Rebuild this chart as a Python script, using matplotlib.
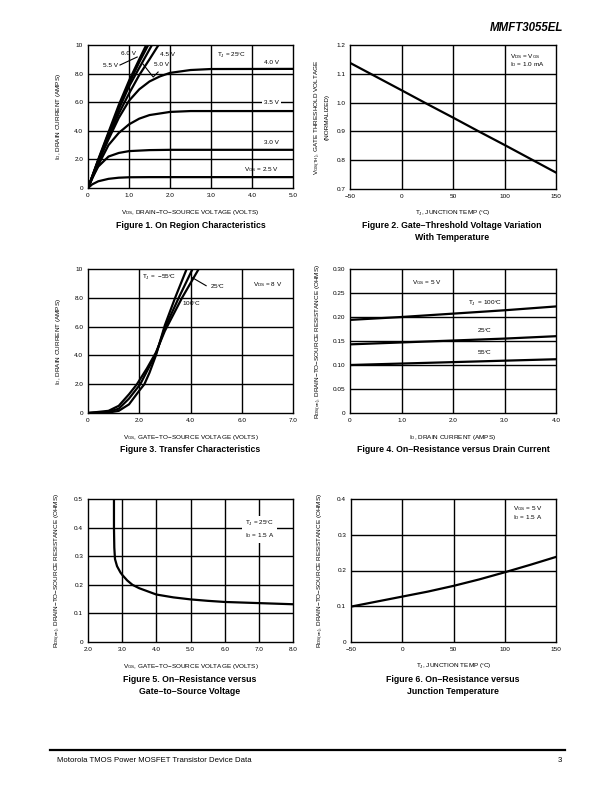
import numpy as np
import matplotlib
matplotlib.use("Agg")
import matplotlib.pyplot as plt
from matplotlib.lines import Line2D

plt.rcParams["font.family"] = ["Liberation Sans", "DejaVu Sans"]
plt.rcParams["mathtext.fontset"] = "custom"
plt.rcParams["mathtext.rm"] = "Liberation Sans"

W, H = 612, 792

# ---- Figure 1: on region characteristics (VDS vs ID per VGS) ----
fig1_labels = ["2.5", "3.0", "3.5", "4.0", "4.5", "5.0", "5.5", "6.0"]
fig1_vds = [
    [0, 0.1, 0.25, 0.5, 0.75, 1.0, 1.5, 5.0],
    [0, 0.1, 0.25, 0.5, 0.75, 1.0, 1.5, 2.0, 5.0],
    [0, 0.25, 0.5, 0.75, 1.0, 1.25, 1.5, 2.0, 2.5, 5.0],
    [0, 0.25, 0.5, 0.75, 1.0, 1.25, 1.5, 1.75, 2.0, 2.5, 3.0, 5.0],
    [0, 0.25, 0.5, 0.75, 1.0, 1.25, 1.5, 1.72],
    [0, 0.25, 0.5, 0.75, 1.0, 1.25, 1.56],
    [0, 0.25, 0.5, 0.75, 1.0, 1.25, 1.47],
    [0, 0.25, 0.5, 0.75, 1.0, 1.25, 1.42],
]
fig1_id = [
    [0, 0.25, 0.47, 0.64, 0.72, 0.75, 0.76, 0.76],
    [0, 0.7, 1.5, 2.2, 2.45, 2.58, 2.65, 2.67, 2.67],
    [0, 1.6, 3.0, 3.85, 4.45, 4.85, 5.1, 5.32, 5.38, 5.38],
    [0, 1.8, 3.4, 4.9, 6.1, 6.9, 7.45, 7.8, 8.05, 8.25, 8.32, 8.33],
    [0, 1.9, 3.6, 5.2, 6.6, 7.9, 9.0, 10],
    [0, 1.9, 3.7, 5.5, 7.1, 8.4, 10],
    [0, 1.95, 3.8, 5.6, 7.3, 8.8, 10],
    [0, 2.0, 3.9, 5.8, 7.5, 9.0, 10],
]

# ---- Figure 2: gate threshold vs temperature ----
fig2_tj = [-50, 0, 25, 50, 75, 100, 125, 150]
fig2_vth = [1.138, 1.043, 0.995, 0.948, 0.900, 0.853, 0.805, 0.757]

# ---- Figure 3: transfer characteristics ----
fig3_vgs_m55 = [0, 0.8, 1.2, 1.6, 2.0, 2.2, 2.4, 2.65, 3.0, 3.4, 3.85]
fig3_id_m55 = [0, 0.03, 0.15, 0.6, 1.55, 2.0, 2.8, 4.0, 6.1, 8.0, 10]
fig3_vgs_25 = [0, 0.8, 1.2, 1.6, 2.04, 2.3, 2.65, 3.0, 3.54, 4.08]
fig3_id_25 = [0, 0.08, 0.3, 1.0, 2.0, 2.9, 4.1, 5.9, 8.0, 10]
fig3_vgs_100 = [0, 0.8, 1.2, 1.6, 1.91, 2.3, 2.65, 3.0, 3.67, 4.32]
fig3_id_100 = [0, 0.15, 0.5, 1.3, 2.0, 3.1, 4.2, 5.7, 8.0, 10]

# ---- Figure 4: on-resistance vs drain current ----
fig4_id = [0, 1, 2, 3, 4]
fig4_r100 = [0.194, 0.200, 0.207, 0.214, 0.222]
fig4_r25 = [0.143, 0.147, 0.151, 0.155, 0.160]
fig4_rm55 = [0.100, 0.103, 0.106, 0.109, 0.112]

# ---- Figure 5: on-resistance vs gate voltage ----
fig5_vgs = [2.76, 2.76, 2.77, 2.79, 2.85, 2.95, 3.0, 3.15, 3.3, 3.5, 4.0, 4.5,
            5.0, 5.5, 6.0, 7.0, 8.0]
fig5_r = [0.5, 0.40, 0.33, 0.29, 0.265, 0.243, 0.235, 0.215, 0.2, 0.188, 0.166,
          0.156, 0.149, 0.144, 0.140, 0.136, 0.132]

# ---- Figure 6: on-resistance vs temperature ----
fig6_tj = [-50, -25, 0, 25, 50, 75, 100, 125, 150]
fig6_r = [0.099, 0.113, 0.127, 0.141, 0.157, 0.175, 0.195, 0.216, 0.238]

TICK_FS = 4.6
LAB_FS = 4.6
ANN_FS = 4.6
CAP_FS = 6.3
LW = 1.6


def make_ax(fig, l, r, t, b):
    return fig.add_axes([l / W, 1 - b / H, (r - l) / W, (b - t) / H])


def style(ax, xlim, ylim, xticks, xlabels, yticks, ylabels, xgrid, ygrid):
    ax.set_xlim(*xlim)
    ax.set_ylim(*ylim)
    ax.set_xticks(xticks)
    ax.set_xticklabels(xlabels)
    ax.set_yticks(yticks)
    ax.set_yticklabels(ylabels)
    ax.tick_params(length=0, labelsize=TICK_FS, pad=3.5)
    for v in xgrid:
        ax.axvline(v, color="black", lw=1.0, zorder=1)
    for v in ygrid:
        ax.axhline(v, color="black", lw=1.0, zorder=1)
    for s in ax.spines.values():
        s.set_linewidth(1.0)


fig = plt.figure(figsize=(W / 100, H / 100), dpi=100)

# Figure 1
ax1 = make_ax(fig, 88, 293, 45, 188)
style(ax1, (0, 5), (0, 10), [0, 1, 2, 3, 4, 5], ["0", "1.0", "2.0", "3.0", "4.0", "5.0"],
      [0, 2, 4, 6, 8, 10], ["0", "2.0", "4.0", "6.0", "8.0", "10"],
      [1, 2, 3, 4], [2, 4, 6, 8])
for x, y in zip(fig1_vds, fig1_id):
    ax1.plot(x, y, color="black", lw=LW, zorder=3, solid_capstyle="butt")
ax1.set_xlabel(r"V$_{\mathregular{DS}}$, DRAIN$-$TO$-$SOURCE VOLTAGE (VOLTS)", fontsize=LAB_FS, labelpad=7)
ax1.set_ylabel(r"I$_{\mathregular{D}}$, DRAIN CURRENT (AMPS)", fontsize=LAB_FS, labelpad=8)
ax1.text(0.98, 9.44, "6.0 V", fontsize=ANN_FS, ha="center", va="center")
ax1.text(1.93, 9.37, "4.5 V", fontsize=ANN_FS, ha="center", va="center")
ax1.text(0.56, 8.6, "5.5 V", fontsize=ANN_FS, ha="center", va="center")
ax1.text(1.80, 8.67, "5.0 V", fontsize=ANN_FS, ha="center", va="center")
ax1.plot([0.78, 1.20], [8.6, 9.16], color="black", lw=0.8, zorder=4)
ax1.plot([1.34, 1.59, 1.71], [8.67, 7.76, 8.11], color="black", lw=0.8, zorder=4)
ax1.text(3.49, 9.3, r"T$_{\mathregular{J}}$ = 25$\mathregular{^{\circ}}$C", fontsize=ANN_FS, ha="center", va="center")
ax1.text(4.47, 8.8, "4.0 V", fontsize=ANN_FS, ha="center", va="center")
ax1.text(4.47, 6.0, "3.5 V", fontsize=ANN_FS, ha="center", va="center", zorder=5,
         bbox=dict(facecolor="white", edgecolor="none", pad=1.5))
ax1.text(4.47, 3.15, "3.0 V", fontsize=ANN_FS, ha="center", va="center")
ax1.text(4.22, 1.26, r"V$_{\mathregular{GS}}$ = 2.5 V", fontsize=ANN_FS, ha="center", va="center")

# Figure 2
ax2 = make_ax(fig, 350, 556, 45, 189)
style(ax2, (-50, 150), (0.7, 1.2), [-50, 0, 50, 100, 150], ["\u221250", "0", "50", "100", "150"],
      [0.7, 0.8, 0.9, 1.0, 1.1, 1.2], ["0.7", "0.8", "0.9", "1.0", "1.1", "1.2"],
      [0, 50, 100], [0.8, 0.9, 1.0, 1.1])
ax2.plot(fig2_tj, fig2_vth, color="black", lw=LW, zorder=3)
ax2.set_xlabel(r"T$_{\mathregular{J}}$, JUNCTION TEMP ($\mathregular{^{\circ}}$C)", fontsize=LAB_FS, labelpad=7)
ax2.set_ylabel(r"V$_{\mathregular{GS(TH)}}$, GATE THRESHOLD VOLTAGE" + "\n(NORMALIZED)",
               fontsize=LAB_FS, labelpad=5, linespacing=1.3)
ax2.text(105, 1.159, r"V$_{\mathregular{DS}}$ = V$_{\mathregular{GS}}$", fontsize=ANN_FS, ha="left", va="center")
ax2.text(105, 1.133, r"I$_{\mathregular{D}}$ = 1.0 mA", fontsize=ANN_FS, ha="left", va="center")

# Figure 3
ax3 = make_ax(fig, 88, 293, 269, 413)
style(ax3, (0, 8), (0, 10), [0, 2, 4, 6, 8], ["0", "2.0", "4.0", "6.0", "7.0"],
      [0, 2, 4, 6, 8, 10], ["0", "2.0", "4.0", "6.0", "8.0", "10"],
      [2, 4, 6], [2, 4, 6, 8])
ax3.plot(fig3_vgs_m55, fig3_id_m55, color="black", lw=LW, zorder=3)
ax3.plot(fig3_vgs_25, fig3_id_25, color="black", lw=LW, zorder=3)
ax3.plot(fig3_vgs_100, fig3_id_100, color="black", lw=LW, zorder=3)
ax3.set_xlabel(r"V$_{\mathregular{GS}}$, GATE$-$TO$-$SOURCE VOLTAGE (VOLTS)", fontsize=LAB_FS, labelpad=7)
ax3.set_ylabel(r"I$_{\mathregular{D}}$, DRAIN CURRENT (AMPS)", fontsize=LAB_FS, labelpad=8)
ax3.text(2.1, 9.42, r"T$_{\mathregular{J}}$ =  $-$55$\mathregular{^{\circ}}$C", fontsize=ANN_FS, ha="left", va="center")
ax3.text(5.06, 8.77, r"25$\mathregular{^{\circ}}$C", fontsize=ANN_FS, ha="center", va="center")
ax3.plot([4.05, 4.61], [9.42, 8.84], color="black", lw=0.8, zorder=4)
ax3.text(4.04, 7.55, r"100$\mathregular{^{\circ}}$C", fontsize=ANN_FS, ha="center", va="center")
ax3.text(7.03, 8.9, r"V$_{\mathregular{DS}}$ = 8 V", fontsize=ANN_FS, ha="center", va="center")

# Figure 4
ax4 = make_ax(fig, 350, 556, 269, 413)
style(ax4, (0, 4), (0, 0.30), [0, 1, 2, 3, 4], ["0", "1.0", "2.0", "3.0", "4.0"],
      [0, 0.05, 0.10, 0.15, 0.20, 0.25, 0.30], ["0", "0.05", "0.10", "0.15", "0.20", "0.25", "0.30"],
      [1, 2, 3], [0.05, 0.10, 0.15, 0.20, 0.25])
for r in (fig4_r100, fig4_r25, fig4_rm55):
    ax4.plot(fig4_id, r, color="black", lw=LW, zorder=3)
ax4.set_xlabel(r"I$_{\mathregular{D}}$, DRAIN CURRENT (AMPS)", fontsize=LAB_FS, labelpad=7)
ax4.set_ylabel(r"R$_{\mathregular{DS(on)}}$, DRAIN$-$TO$-$SOURCE RESISTANCE (OHMS)", fontsize=LAB_FS, labelpad=6)
ax4.text(1.5, 0.271, r"V$_{\mathregular{GS}}$ = 5 V", fontsize=ANN_FS, ha="center", va="center")
ax4.text(2.62, 0.229, r"T$_{\mathregular{J}}$  = 100$\mathregular{^{\circ}}$C", fontsize=ANN_FS, ha="center", va="center")
ax4.text(2.62, 0.171, r"25$\mathregular{^{\circ}}$C", fontsize=ANN_FS, ha="center", va="center")
ax4.text(2.62, 0.125, r"55$\mathregular{^{\circ}}$C", fontsize=ANN_FS, ha="center", va="center")

# Figure 5
ax5 = make_ax(fig, 88, 293, 499, 642)
style(ax5, (2, 8), (0, 0.5), [2, 3, 4, 5, 6, 7, 8], ["2.0", "3.0", "4.0", "5.0", "6.0", "7.0", "8.0"],
      [0, 0.1, 0.2, 0.3, 0.4, 0.5], ["0", "0.1", "0.2", "0.3", "0.4", "0.5"],
      [3, 4, 5, 6, 7], [0.1, 0.2, 0.3, 0.4])
ax5.plot(fig5_vgs, fig5_r, color="black", lw=LW, zorder=3)
ax5.set_xlabel(r"V$_{\mathregular{GS}}$, GATE$-$TO$-$SOURCE VOLTAGE (VOLTS)", fontsize=LAB_FS, labelpad=7)
ax5.set_ylabel(r"R$_{\mathregular{DS(on)}}$, DRAIN$-$TO$-$SOURCE RESISTANCE (OHMS)", fontsize=LAB_FS, labelpad=8)
ax5.text(6.6, 0.394, r"T$_{\mathregular{J}}$ = 25$\mathregular{^{\circ}}$C" + "\n" + r"I$_{\mathregular{D}}$ = 1.5 A",
         fontsize=ANN_FS, ha="left", va="center", linespacing=1.6, zorder=5,
         bbox=dict(facecolor="white", edgecolor="none", pad=2))

# Figure 6
ax6 = make_ax(fig, 351, 556, 499, 642)
style(ax6, (-50, 150), (0, 0.4), [-50, 0, 50, 100, 150], ["\u221250", "0", "50", "100", "150"],
      [0, 0.1, 0.2, 0.3, 0.4], ["0", "0.1", "0.2", "0.3", "0.4"],
      [0, 50, 100], [0.1, 0.2, 0.3])
ax6.plot(fig6_tj, fig6_r, color="black", lw=LW, zorder=3)
ax6.set_xlabel(r"T$_{\mathregular{J}}$, JUNCTION TEMP ($\mathregular{^{\circ}}$C)", fontsize=LAB_FS, labelpad=7)
ax6.set_ylabel(r"R$_{\mathregular{DS(on)}}$, DRAIN$-$TO$-$SOURCE RESISTANCE (OHMS)", fontsize=LAB_FS, labelpad=8)
ax6.text(108, 0.372, r"V$_{\mathregular{GS}}$ = 5 V", fontsize=ANN_FS, ha="left", va="center")
ax6.text(108, 0.347, r"I$_{\mathregular{D}}$ = 1.5 A", fontsize=ANN_FS, ha="left", va="center")

# captions
def cap(x, y, s):
    fig.text(x / W, 1 - y / H, s, fontsize=CAP_FS, fontweight="bold", ha="center", va="center",
             linespacing=1.35)

cap(191, 226, "Figure 1. On Region Characteristics")
cap(452, 231.5, "Figure 2. Gate\u2013Threshold Voltage Variation\nWith Temperature")
cap(190, 449, "Figure 3. Transfer Characteristics")
cap(453, 449, "Figure 4. On\u2013Resistance versus Drain Current")
cap(190, 685.5, "Figure 5. On\u2013Resistance versus\nGate\u2013to\u2013Source Voltage")
cap(453, 685.5, "Figure 6. On\u2013Resistance versus\nJunction Temperature")

# header and footer
fig.text(563 / W, 1 - 28 / H, "MMFT3055EL", fontsize=8.3, fontweight="heavy", fontstyle="italic",
         ha="right", va="center")
fig.add_artist(Line2D([50 / W, 565 / W], [1 - 750 / H, 1 - 750 / H], color="black", lw=1.6,
                      transform=fig.transFigure))
fig.text(57 / W, 1 - 761 / H, "Motorola TMOS Power MOSFET Transistor Device Data", fontsize=5.6,
         ha="left", va="center")
fig.text(562 / W, 1 - 761 / H, "3", fontsize=5.6, ha="right", va="center")

fig.savefig("out.png", dpi=100)
